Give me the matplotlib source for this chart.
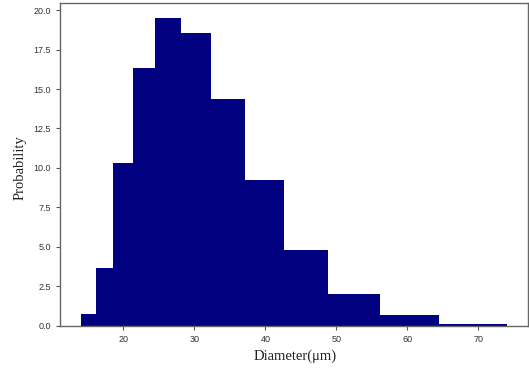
import matplotlib
matplotlib.use("Agg")
import matplotlib.pyplot as plt
import numpy as np

# bin edges (log-spaced bins) and bar heights
bin_edges = [14.08, 16.18, 18.56, 21.36, 24.48, 28.18, 32.33, 37.10,
             42.60, 48.85, 56.14, 64.40, 73.98]
heights = [0.77, 3.66, 10.30, 16.32, 19.48, 18.53, 14.38, 9.21,
           4.80, 2.01, 0.65, 0.14]
x_ticks = [20, 30, 40, 50, 60, 70]
y_ticks = [0.0, 2.5, 5.0, 7.5, 10.0, 12.5, 15.0, 17.5, 20.0]

fig = plt.figure(figsize=(5.29, 3.69), dpi=100)
ax = fig.add_axes([0.1134, 0.1173, 0.8846, 0.8746])

edges = np.array(bin_edges)
ax.bar(edges[:-1], heights, width=np.diff(edges), align="edge",
       color="#000080", edgecolor="none")

ax.set_xticks(x_ticks)
ax.set_yticks(y_ticks)
ax.set_xticklabels([str(t) for t in x_ticks], family="Liberation Sans")
ax.set_yticklabels([f"{t:.1f}" for t in y_ticks], family="Liberation Sans")
ax.tick_params(labelsize=6.5, labelcolor="#333333", color="#555555",
               length=3, width=0.8)
for spine in ax.spines.values():
    spine.set_color("#666666")
    spine.set_linewidth(1.0)

ax.set_xlabel("Diameter(μm)", family="Liberation Serif", fontsize=10.5,
              color="#222222", va="center")
ax.set_ylabel("Probability", family="Liberation Serif", fontsize=10.5,
              color="#222222", va="center")
ax.xaxis.set_label_coords(0.503, -0.094)
ax.yaxis.set_label_coords(-0.0855, 0.49)

fig.savefig("out.png", dpi=100)
